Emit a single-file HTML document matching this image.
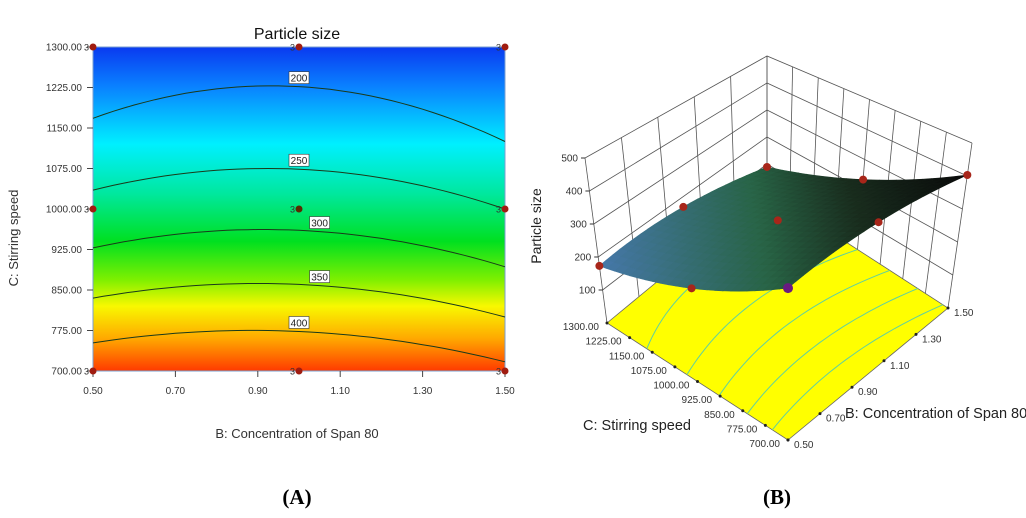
<!DOCTYPE html>
<html><head><meta charset="utf-8"><style>
html,body{margin:0;padding:0;background:#fff;}
svg{display:block;font-family:"Liberation Sans",sans-serif;}
</style></head><body>
<svg id="root" width="1026" height="518" viewBox="0 0 1026 518">
<defs>
<linearGradient id="cg" x1="0" y1="0" x2="0" y2="1">
<stop offset="0" stop-color="#0a3af0"/><stop offset="0.12" stop-color="#0a80ff"/>
<stop offset="0.3" stop-color="#00f0ff"/><stop offset="0.45" stop-color="#00e8a0"/>
<stop offset="0.6" stop-color="#00e020"/><stop offset="0.72" stop-color="#80f000"/>
<stop offset="0.8" stop-color="#f8f800"/><stop offset="0.9" stop-color="#ffa800"/>
<stop offset="1" stop-color="#ff3a00"/>
</linearGradient>
</defs>
<g id="left"></g>
<g id="right"></g>
<text x="297" y="504" text-anchor="middle" font-family="Liberation Serif" font-weight="bold" font-size="21">(A)</text>
<text x="777" y="504" text-anchor="middle" font-family="Liberation Serif" font-weight="bold" font-size="21">(B)</text>
</svg>
<script>
const bTicks=[0.5,0.7,0.9,1.1,1.3,1.5];
const cTicks=[700,775,850,925,1000,1075,1150,1225,1300];
const levels=[200,250,300,350,400];
const cAtLeft=[1168,1035,928,835,752];
const cAtPeak=[1228,1075,962,862,775];
const cAtRight=[1125,1000,893,800,717];
const peakB=0.92;
const labelB=[1.0,1.0,1.05,1.05,1.0];
const designB=[0.5,1.0,1.5,0.5,1.0,1.5,0.5,1.0,1.5];
const designC=[1300,1300,1300,1000,1000,1000,700,700,700];
const zTicks=[100,200,300,400,500];
const gridB=[0.5,1.0,1.5];
const gridC=[1300,1000,700];
const zGrid=[[173,167,89],[270,295,233],[422,440,403]];

const NS='http://www.w3.org/2000/svg';
function mk(p,tag,attrs,txt){const e=document.createElementNS(NS,tag);for(const k in attrs)e.setAttribute(k,attrs[k]);if(txt!==undefined)e.textContent=txt;p.appendChild(e);return e;}
const L=document.getElementById('left');
const xB=b=>93+(b-0.5)/1*412;
const yC=c=>371-(c-700)/600*324;
function quad(b,i){const x0=0.5,x1=peakB,x2=1.5,y0=cAtLeft[i],y1=cAtPeak[i],y2=cAtRight[i];
return y0*(b-x1)*(b-x2)/((x0-x1)*(x0-x2))+y1*(b-x0)*(b-x2)/((x1-x0)*(x1-x2))+y2*(b-x0)*(b-x1)/((x2-x0)*(x2-x1));}
let r=mk(L,'rect',{x:93,y:47,width:412,height:324,fill:'url(#cg)',stroke:'#7a9fd0','stroke-width':1});

let t=mk(L,'text',{x:297,y:39,'text-anchor':'middle','font-size':16,fill:'#111'},'Particle size');

levels.forEach((lv,i)=>{let d='';for(let k=0;k<=40;k++){const b=0.5+k/40;d+=(k?'L':'M')+xB(b).toFixed(1)+' '+yC(quad(b,i)).toFixed(1);}
let p=mk(L,'path',{d:d,fill:'none',stroke:'#1a3a1a','stroke-width':1});

const lx=xB(labelB[i]),ly=yC(quad(labelB[i],i))-9;
let g=mk(L,'g',{});
mk(g,'rect',{x:lx-10,y:ly-6,width:20,height:12,fill:'#fff',stroke:'#333','stroke-width':0.6});
mk(g,'text',{x:lx,y:ly+4,'text-anchor':'middle','font-size':10,fill:'#222'},String(lv));});
bTicks.forEach(b=>{mk(L,'line',{x1:xB(b),y1:371,x2:xB(b),y2:377,stroke:'#444'});
let e=mk(L,'text',{x:xB(b),y:394,'text-anchor':'middle','font-size':10,fill:'#333'},b.toFixed(2));
});
cTicks.forEach(c=>{mk(L,'line',{x1:87,y1:yC(c),x2:93,y2:yC(c),stroke:'#444'});
let e=mk(L,'text',{x:82,y:yC(c)+3.5,'text-anchor':'end','font-size':10,fill:'#333'},c.toFixed(2));
});
designB.forEach((b,i)=>{const c=designC[i];
let g=mk(L,'g',{});
mk(g,'circle',{cx:xB(b),cy:yC(c),r:3.5,fill:(b==1&&c==1000)?'#5a2a00':'#a01c10'});
mk(g,'text',{x:xB(b)-9,y:yC(c)+3.5,'font-size':9,fill:'#333'},'3');});
t=mk(L,'text',{x:297,y:438,'text-anchor':'middle','font-size':13,fill:'#333'},'B: Concentration of Span 80');

t=mk(L,'text',{x:0,y:0,'text-anchor':'middle','font-size':13,fill:'#333',transform:'translate(18,238) rotate(-90)'},'C: Stirring speed');


// 3D
const R=document.getElementById('right');
const PF=[788,440],PL=[607,323],PR=[948,308],PB=[767,191];
function base(b,c){const u=(b-0.5),v=(1300-c)/600;// u:0..1 toward right-ish, v:0 at c1300
// corners: (u0,v0)=L,(u1,v0)=B,(u0,v1)=F,(u1,v1)=R
const x=PL[0]*(1-u)*(1-v)+PB[0]*u*(1-v)+PF[0]*(1-u)*v+PR[0]*u*v;
const y=PL[1]*(1-u)*(1-v)+PB[1]*u*(1-v)+PF[1]*(1-u)*v+PR[1]*u*v;
const k=0.33*(1-u)*(1-v)+0.27*u*(1-v)+0.36*(1-u)*v+0.33*u*v;
const dx=-0.044*(1-u)*(1-v)+0.048*u*v;return [x,y,k,dx];}
function P(b,c,z){const q=base(b,c);return [q[0]+q[3]*z,q[1]-q[2]*z];}
const pts=a=>a.map(p=>p[0].toFixed(1)+','+p[1].toFixed(1)).join(' ');
let e=mk(R,'polygon',{points:pts([P(0.5,1300,0),P(1.5,1300,0),P(1.5,700,0),P(0.5,700,0)]),fill:'#ffff00',stroke:'#666','stroke-width':0.8});

levels.forEach((lv,i)=>{const a=[];for(let k=0;k<=30;k++){const b=0.5+k/30;a.push(P(b,quad(b,i),0));}
let p=mk(R,'polyline',{points:pts(a),fill:'none',stroke:'#60d0a0','stroke-width':1});
});
// walls
const wall=mk(R,'g',{stroke:'#555','stroke-width':0.8,fill:'none'});

bTicks.forEach(b=>{const a=P(b,1300,0),q=P(b,1300,500);mk(wall,'line',{x1:a[0],y1:a[1],x2:q[0],y2:q[1]});});
cTicks.forEach(c=>{const a=P(1.5,c,0),q=P(1.5,c,500);mk(wall,'line',{x1:a[0],y1:a[1],x2:q[0],y2:q[1]});});
zTicks.forEach(z=>{mk(wall,'polyline',{points:pts([P(0.5,1300,z),P(1.5,1300,z),P(1.5,700,z)])});});
// surface
function zAt(b,c){const u=(b-0.5)*2,v=(1300-c)/300;
const lag=(s,w)=>[w[0]*(s-1)*(s-2)/2,-w[1]*s*(s-2),w[2]*s*(s-1)/2].reduce((a,b)=>a+b);
const rows=zGrid.map(row=>lag(u,row));return lag(v,rows);}
function col(b,c){const t=((b-0.5)+(c-700)/600*0)/1;const tt=((b-0.5)+(1-(c-700)/600))/2;
const stops=[[0,[70,120,170]],[0.45,[40,100,70]],[0.7,[25,45,30]],[1,[10,10,10]]];
for(let i=1;i<stops.length;i++){if(tt<=stops[i][0]){const a=stops[i-1],d=stops[i],f=(tt-a[0])/(d[0]-a[0]);
return 'rgb('+a[1].map((x,j)=>Math.round(x+(d[1][j]-x)*f)).join(',')+')';}}return 'rgb(10,10,10)';}
const N=24,quads=[];
for(let i=0;i<N;i++)for(let j=0;j<N;j++){const b0=0.5+i/N,b1=0.5+(i+1)/N,c0=1300-j*600/N,c1=1300-(j+1)*600/N;
quads.push({d:(i+0.5)/N+(N-j-0.5)/N,b0,b1,c0,c1});}
quads.sort((a,b)=>b.d-a.d);
const sg=mk(R,'g',{});
quads.forEach(q=>{const f=col((q.b0+q.b1)/2,(q.c0+q.c1)/2);
mk(sg,'polygon',{points:pts([P(q.b0,q.c0,zAt(q.b0,q.c0)),P(q.b1,q.c0,zAt(q.b1,q.c0)),P(q.b1,q.c1,zAt(q.b1,q.c1)),P(q.b0,q.c1,zAt(q.b0,q.c1))]),fill:f,stroke:f,'stroke-width':0.6});});
gridB.forEach((b,i)=>gridC.forEach((c,j)=>{const p=P(b,c,zGrid[j][i]);
let d=mk(R,'circle',{cx:p[0],cy:p[1],r:(b==0.5&&c==700)?5:4,fill:(b==0.5&&c==700)?'#6a1a80':'#a8261a'});
}));
// axes labels
zTicks.forEach(z=>{const p=P(0.5,1300,z);mk(R,'line',{x1:p[0]-4,y1:p[1],x2:p[0],y2:p[1],stroke:'#333'});
let e=mk(R,'text',{x:p[0]-7,y:p[1]+3.5,'text-anchor':'end','font-size':10,fill:'#333'},String(z));
});
cTicks.forEach(c=>{const p=P(0.5,c,0);mk(R,'circle',{cx:p[0],cy:p[1],r:1.5,fill:'#222'});
let e=mk(R,'text',{x:p[0]-8,y:p[1]+7,'text-anchor':'end','font-size':10,fill:'#333'},c.toFixed(2));
});
bTicks.forEach(b=>{const p=P(b,700,0);mk(R,'circle',{cx:p[0],cy:p[1],r:1.5,fill:'#222'});
let e=mk(R,'text',{x:p[0]+6,y:p[1]+8,'text-anchor':'start','font-size':10,fill:'#333'},b.toFixed(2));
});
t=mk(R,'text',{x:0,y:0,'text-anchor':'middle','font-size':14,fill:'#222',transform:'translate(541,226) rotate(-90)'},'Particle size');

t=mk(R,'text',{x:583,y:430,'font-size':14.5,fill:'#222'},'C: Stirring speed');

t=mk(R,'text',{x:845,y:418,'font-size':14.5,fill:'#222'},'B: Concentration of Span 80');

</script>
</body></html>
